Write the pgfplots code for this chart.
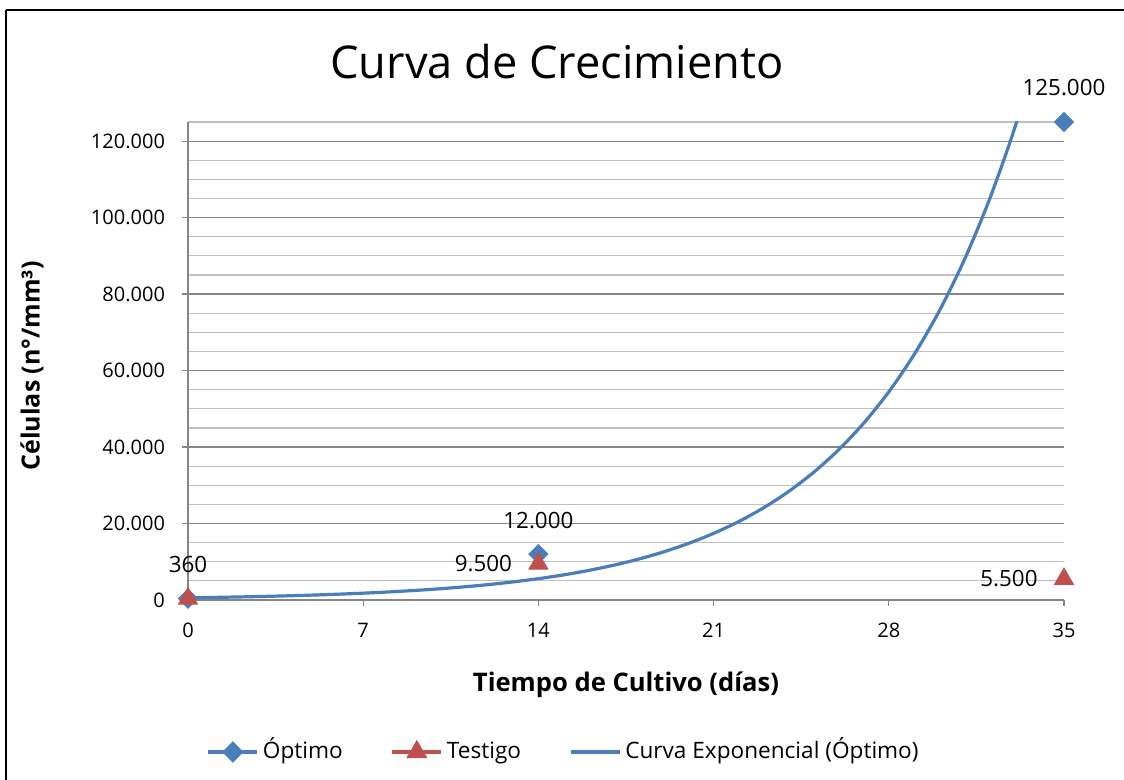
\documentclass[border=0pt]{standalone}
\usepackage{pgfplots}
\pgfplotsset{compat=1.18}
\usepackage{fontspec}
\setmainfont{Open Sans}
\definecolor{optblue}{RGB}{74,126,187}
\definecolor{testred}{RGB}{192,80,77}
\definecolor{axgray}{RGB}{134,134,134}
\definecolor{mingray}{RGB}{192,192,192}
\begin{document}
\begin{tikzpicture}
\useasboundingbox (0,0) rectangle (562pt,390pt);
\draw[line width=1.2pt] (3pt,-2pt) -- (3pt,385pt);
\draw[line width=1.2pt] (3pt,385pt) -- (566pt,385pt);
\begin{axis}[
  at={(94pt,90pt)}, anchor=south west,
  scale only axis, width=438pt, height=239pt,
  xmin=0, xmax=35, ymin=0, ymax=125000,
  xtick={0,7,...,35},
  ytick={0,20000,...,120000},
  minor ytick={5000,10000,15000,25000,30000,35000,45000,50000,55000,65000,70000,75000,85000,90000,95000,105000,110000,115000,125000},
  ymajorgrids, yminorgrids,
  major grid style={axgray, line width=0.6pt},
  minor grid style={mingray, line width=0.6pt},
  axis x line*=bottom, axis y line*=left,
  axis line style={axgray, line width=0.6pt, -},
  tick align=outside, major tick length=3pt, minor tick length=0pt,
  tick style={axgray, line width=0.6pt},
  scaled y ticks=false,
  /pgf/number format/.cd, fixed, 1000 sep={.}, assume math mode=true,
  /pgfplots/.cd,
  ticklabel style={font=\fontsize{10}{12}\selectfont, text=black},
  yticklabel style={xshift=-5pt},
  xticklabel style={yshift=-5pt},
  xlabel={Tiempo de Cultivo (días)},
  ylabel={Células (n°/mm³)},
  xlabel style={at={(axis description cs:0.5,-0.178)}, anchor=center, font=\bfseries\fontsize{12.8}{15}\selectfont},
  ylabel style={at={(axis description cs:-0.178,0.49)}, anchor=center, font=\bfseries\fontsize{12.5}{15}\selectfont},
  legend image code/.code={\draw[mark repeat=2,mark phase=2,#1] plot coordinates {(0pt,0pt) (12.25pt,0pt) (24.5pt,0pt)};},
  legend style={at={(0.43,-0.318)}, anchor=center, draw=none, fill=none,
    legend columns=3, font=\fontsize{11.3}{13}\selectfont,
    nodes={text height=1.6ex, text depth=0.45ex},
    /tikz/every even column/.append style={column sep=22pt}},
]
% exponential trend line (Optimo)
\addplot[forget plot, optblue, line width=1.6pt, smooth, mark=none] coordinates {
(0,571) (1,672) (2,791) (3,930) (4,1095) (5,1288) (6,1516) (7,1784)
(8,2100) (9,2471) (10,2907) (11,3421) (12,4026) (13,4738) (14,5575)
(15,6560) (16,7720) (17,9085) (18,10690) (19,12580) (20,14803)
(21,17420) (22,20499) (23,24122) (24,28386) (25,33404) (26,39308)
(27,46256) (28,54432) (29,64054) (30,75376) (31,88700) (32,104378)
(33,122828) (34,144540)};
% Optimo
\addplot[forget plot, only marks, mark=square*, mark size=3.4pt,
  mark options={rotate=45, fill=optblue, draw=optblue},
  nodes near coords, point meta=explicit symbolic,
  every node near coord/.style={anchor=center, yshift=17pt, text=black, font=\fontsize{11.2}{13}\selectfont}]
  coordinates {(0,360) [360] (14,12000) [12.000] (35,125000) [125.000]};
% Testigo
\addplot[forget plot, only marks, mark=triangle*, mark size=5.5pt,
  mark options={fill=testred, draw=testred},
  nodes near coords, point meta=explicit symbolic,
  every node near coord/.style={anchor=east, inner sep=0pt, xshift=-13pt, text=black, font=\fontsize{11.2}{13}\selectfont}]
  coordinates {(0,360) [{}] (14,9500) [9.500] (35,5500) [5.500]};
\addlegendimage{optblue, line width=1.6pt, mark=square*, mark options={rotate=45, mark size=3pt, fill=optblue, solid}}
\addlegendentry{Óptimo}
\addlegendimage{testred, line width=1.6pt, mark=triangle*, mark options={mark size=4.5pt, fill=testred, solid}}
\addlegendentry{Testigo}
\addlegendimage{optblue, line width=1.6pt}
\addlegendentry{Curva Exponencial (Óptimo)}
\end{axis}
\node[font=\fontsize{22.6}{27}\selectfont] at (278.5pt,359pt) {Curva de Crecimiento};
\end{tikzpicture}
\end{document}
